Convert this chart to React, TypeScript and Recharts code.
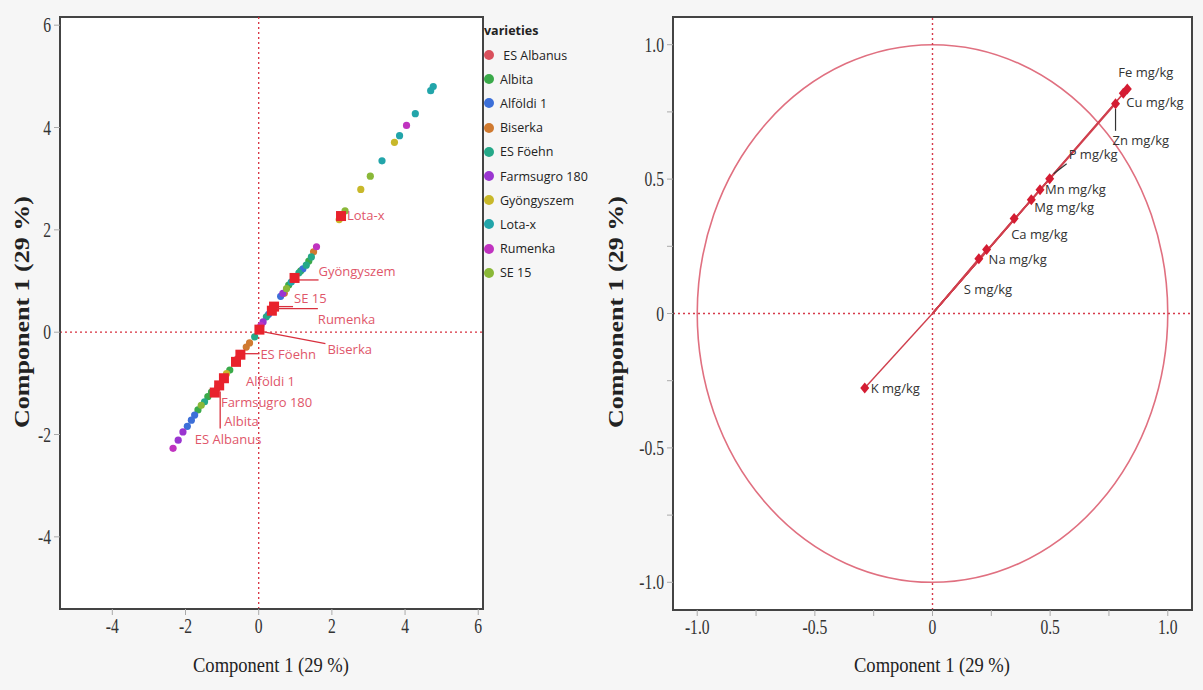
import React from "react";
import {
  ScatterChart,
  Scatter,
  XAxis,
  YAxis,
  ReferenceLine,
  ReferenceArea,
} from "recharts";

// ---- score plot (left) ----
const varietyNames = [
  "ES Albanus",
  "Albita",
  "Alföldi 1",
  "Biserka",
  "ES Föehn",
  "Farmsugro 180",
  "Gyöngyszem",
  "Lota-x",
  "Rumenka",
  "SE 15",
];

const varietyColors = [
  "#d9505c",
  "#3aaa4a",
  "#3c6fd8",
  "#d07a30",
  "#25a888",
  "#9a35d0",
  "#c8b82a",
  "#22a5aa",
  "#c033c0",
  "#8ab838",
];

const esAlbanusPts = [
  { x: -0.58, y: -0.52 },
  { x: -1.12, y: -1.08 },
];
const albitaPts = [
  { x: -0.79, y: -0.74 },
  { x: -1.29, y: -1.17 },
  { x: -1.39, y: -1.26 },
  { x: -1.66, y: -1.52 },
  { x: 1.37, y: 1.39 },
  { x: 0.82, y: 0.92 },
  { x: 1.15, y: 1.2 },
];
const alfoldiPts = [
  { x: -1.75, y: -1.62 },
  { x: -1.84, y: -1.72 },
  { x: -1.95, y: -1.84 },
  { x: 1.21, y: 1.24 },
  { x: 0.6, y: 0.7 },
  { x: 0.27, y: 0.35 },
];
const biserkaPts = [
  { x: -0.25, y: -0.21 },
  { x: -0.34, y: -0.29 },
  { x: 1.5, y: 1.57 },
  { x: 0.7, y: 0.76 },
];
const foehnPts = [
  { x: -0.11, y: -0.09 },
  { x: -1.48, y: -1.36 },
  { x: 1.44, y: 1.47 },
  { x: 1.3, y: 1.31 },
  { x: 0.21, y: 0.3 },
  { x: 1.1, y: 1.16 },
];
const farmsugroPts = [
  { x: -2.07, y: -1.95 },
  { x: -2.2, y: -2.11 },
  { x: 0.66, y: 0.76 },
  { x: 0.12, y: 0.2 },
];
const gyongyszemPts = [
  { x: 3.71, y: 3.71 },
  { x: 2.79, y: 2.79 },
  { x: 2.2, y: 2.2 },
  { x: -0.88, y: -0.81 },
];
const lotaPts = [
  { x: 4.7, y: 4.72 },
  { x: 4.77, y: 4.8 },
  { x: 4.28, y: 4.27 },
  { x: 3.85, y: 3.84 },
  { x: 3.37, y: 3.35 },
  { x: 0.89, y: 0.98 },
];
const rumenkaPts = [
  { x: 4.04, y: 4.04 },
  { x: 1.58, y: 1.67 },
  { x: 0.06, y: 0.13 },
  { x: -2.34, y: -2.27 },
];
const se15Pts = [
  { x: 3.05, y: 3.05 },
  { x: 2.36, y: 2.37 },
  { x: 0.76, y: 0.85 },
  { x: -1.57, y: -1.43 },
];

const varietyPoints = [
  esAlbanusPts,
  albitaPts,
  alfoldiPts,
  biserkaPts,
  foehnPts,
  farmsugroPts,
  gyongyszemPts,
  lotaPts,
  rumenkaPts,
  se15Pts,
];

// variety means (red squares) + label placement in px
const meanNames = [
  "Lota-x",
  "Gyöngyszem",
  "SE 15",
  "Rumenka",
  "Biserka",
  "ES Föehn",
  "Alföldi 1",
  "Farmsugro 180",
  "Albita",
  "ES Albanus",
];
const meanX = [2.25, 0.98, 0.42, 0.36, 0.02, -0.5, -0.62, -0.95, -1.08, -1.2];
const meanY = [2.27, 1.06, 0.5, 0.42, 0.05, -0.44, -0.58, -0.9, -1.04, -1.18];
const meanLabelOffset = [
  [6, -1],
  [24, -7],
  [20, -9],
  [46, 8],
  [68, 19],
  [20, -1],
  [10, 19],
  [-3, 24],
  [5, 36],
  [-20, 46],
];
const meanLeader = [
  null,
  [4, 2, 24, 2],
  [4, 0, 19, 0],
  [4, -2, 46, -2],
  [3, 2, 66, 14],
  [4, -1, 19, -1],
  null,
  null,
  [1, 6, 1, 43],
  null,
];

// ---- loading plot (right) ----
const loadingNames = [
  "Fe mg/kg",
  "Cu mg/kg",
  "Zn mg/kg",
  "P mg/kg",
  "Mn mg/kg",
  "Mg mg/kg",
  "Ca mg/kg",
  "Na mg/kg",
  "S mg/kg",
  "K mg/kg",
];
const loadingX = [0.828, 0.811, 0.778, 0.498, 0.457, 0.42, 0.347, 0.23, 0.197, -0.288];
const loadingY = [0.835, 0.819, 0.78, 0.501, 0.46, 0.423, 0.353, 0.238, 0.204, -0.277];
const loadingLabelOffset = [
  [-9, -17],
  [3, 9],
  [-3, 36],
  [19, -25],
  [5, -1],
  [3, 7],
  [-3, 15],
  [2, 9],
  [-15, 30],
  [6, 0],
];
const loadingLeader = [
  null,
  null,
  [0, 5, 0, 27],
  [4, -5, 17, -15],
  null,
  null,
  null,
  null,
  null,
  null,
];

const scoreTicks = [-4, -2, 0, 2, 4, 6];
const loadTicks = [-1, -0.75, -0.5, -0.25, 0, 0.25, 0.5, 0.75, 1];

const meanData = meanNames.map((name, i) => ({
  name,
  x: meanX[i],
  y: meanY[i],
  off: meanLabelOffset[i],
  lead: meanLeader[i],
}));
const loadingData = loadingNames.map((name, i) => ({
  name,
  x: loadingX[i],
  y: loadingY[i],
  off: loadingLabelOffset[i],
  lead: loadingLeader[i],
}));

const SERIF = "'Liberation Serif', 'Times New Roman', serif";
const SANS = "'Open Sans', 'Noto Sans', sans-serif";
const RED = "#d8303e";

const fmtLoad = (v: number) => {
  if (Math.abs(v * 2 - Math.round(v * 2)) > 1e-6) return "";
  if (v === 0) return "0";
  return v.toFixed(1);
};

const XTick = (props: any) => {
  const { x, y, payload, fmt } = props;
  const t = fmt ? fmt(payload.value) : String(payload.value);
  return (
    <g transform={`translate(${x},${y + 16})`}>
      <text
        transform="scale(0.78,1)"
        textAnchor="middle"
        fontFamily={SERIF}
        fontSize={20}
        fill="#333"
      >
        {t}
      </text>
    </g>
  );
};

const YTick = (props: any) => {
  const { x, y, payload, fmt } = props;
  const t = fmt ? fmt(payload.value) : String(payload.value);
  return (
    <g transform={`translate(${x - 1},${y + 7})`}>
      <text
        transform="scale(0.78,1)"
        textAnchor="end"
        fontFamily={SERIF}
        fontSize={20}
        fill="#333"
      >
        {t}
      </text>
    </g>
  );
};

const Dot = (color: string) => (p: any) => (
  <circle cx={p.cx} cy={p.cy} r={3.6} fill={color} />
);

const MeanShape = (p: any) => {
  const { cx, cy, payload } = p;
  const [dx, dy] = payload.off;
  const l = payload.lead;
  return (
    <g>
      {l && (
        <line
          x1={cx + l[0]}
          y1={cy + l[1]}
          x2={cx + l[2]}
          y2={cy + l[3]}
          stroke={RED}
          strokeWidth={1.3}
        />
      )}
      <rect x={cx - 5} y={cy - 5} width={10} height={10} fill="#e8222c" />
      <text
        x={cx + dx}
        y={cy + dy}
        dominantBaseline="central"
        fontFamily={SANS}
        fontSize={13}
        fill="#e0566a"
      >
        {payload.name}
      </text>
    </g>
  );
};

const LoadShape = (p: any) => {
  const { cx, cy, payload } = p;
  const [dx, dy] = payload.off;
  const l = payload.lead;
  return (
    <g>
      {l && (
        <line
          x1={cx + l[0]}
          y1={cy + l[1]}
          x2={cx + l[2]}
          y2={cy + l[3]}
          stroke="#333"
          strokeWidth={1.2}
        />
      )}
      <path
        d={`M${cx},${cy - 5.5} L${cx + 4.5},${cy} L${cx},${cy + 5.5} L${cx - 4.5},${cy} Z`}
        fill="#d41c32"
      />
      <text
        x={cx + dx}
        y={cy + dy}
        dominantBaseline="central"
        fontFamily={SANS}
        fontSize={13}
        fill="#333"
      >
        {payload.name}
      </text>
    </g>
  );
};

const Ellipse = (p: any) => {
  const { x, y, width, height } = p;
  return (
    <ellipse
      cx={x + width / 2}
      cy={y + height / 2}
      rx={Math.abs(width) / 2}
      ry={Math.abs(height) / 2}
      fill="none"
      stroke="#e07080"
      strokeWidth={1.6}
    />
  );
};

const axisLine = { stroke: "#444", strokeWidth: 2 };
const tickLine = { stroke: "#aaa" };

export default function App() {
  const sxDom: [number, number] = [-5.43, 6.13];
  const syDom: [number, number] = [-5.41, 6.16];
  const lDom: [number, number] = [-1.103, 1.103];

  return (
    <div
      style={{
        position: "fixed",
        left: 0,
        top: 0,
        width: 1203,
        height: 690,
        background: "#f6f6f6",
        overflow: "hidden",
      }}
    >
      <div style={{ position: "absolute", left: 0, top: 0 }}>
        <ScatterChart
          width={600}
          height={690}
          margin={{ top: 17, right: 117, bottom: 0, left: 0 }}
        >
          <XAxis
            type="number"
            dataKey="x"
            domain={sxDom}
            ticks={scoreTicks}
            allowDataOverflow
            height={81}
            axisLine={axisLine}
            tickLine={tickLine}
            tickSize={6}
            tick={<XTick />}
          />
          <YAxis
            type="number"
            dataKey="y"
            domain={syDom}
            ticks={scoreTicks}
            allowDataOverflow
            width={60}
            axisLine={axisLine}
            tickLine={tickLine}
            tickSize={6}
            tick={<YTick />}
          />
          <ReferenceArea
            x1={sxDom[0]}
            x2={sxDom[1]}
            y1={syDom[0]}
            y2={syDom[1]}
            fill="#ffffff"
            fillOpacity={1}
            stroke="#444"
            strokeWidth={2}
          />
          <ReferenceLine x={0} stroke={RED} strokeDasharray="2 3" strokeWidth={1.3} />
          <ReferenceLine y={0} stroke={RED} strokeDasharray="2 3" strokeWidth={1.3} />
          {varietyPoints.map((pts, i) => (
            <Scatter
              key={varietyNames[i]}
              name={varietyNames[i]}
              data={pts}
              shape={Dot(varietyColors[i])}
              isAnimationActive={false}
            />
          ))}
          <Scatter data={meanData} shape={MeanShape} isAnimationActive={false} />
        </ScatterChart>
      </div>

      <div style={{ position: "absolute", left: 600, top: 0 }}>
        <ScatterChart
          width={603}
          height={690}
          margin={{ top: 17, right: 11, bottom: 0, left: 0 }}
        >
          <XAxis
            type="number"
            dataKey="x"
            domain={lDom}
            ticks={loadTicks}
            allowDataOverflow
            height={80}
            axisLine={axisLine}
            tickLine={tickLine}
            tickSize={6}
            tick={<XTick fmt={fmtLoad} />}
          />
          <YAxis
            type="number"
            dataKey="y"
            domain={lDom}
            ticks={loadTicks}
            allowDataOverflow
            width={73}
            axisLine={axisLine}
            tickLine={tickLine}
            tickSize={6}
            tick={<YTick fmt={fmtLoad} />}
          />
          <ReferenceArea
            x1={lDom[0]}
            x2={lDom[1]}
            y1={lDom[0]}
            y2={lDom[1]}
            fill="#ffffff"
            fillOpacity={1}
            stroke="#444"
            strokeWidth={2}
          />
          <ReferenceArea x1={-1} x2={1} y1={-1} y2={1} shape={Ellipse} />
          <ReferenceLine x={0} stroke="#d63a4a" strokeDasharray="2 3" strokeWidth={1.4} />
          <ReferenceLine y={0} stroke="#d63a4a" strokeDasharray="2 3" strokeWidth={1.4} />
          {loadingData.map((d) => (
            <ReferenceLine
              key={d.name}
              segment={[
                { x: 0, y: 0 },
                { x: d.x, y: d.y },
              ]}
              stroke="#d0404e"
              strokeWidth={1.4}
            />
          ))}
          <Scatter data={loadingData} shape={LoadShape} isAnimationActive={false} />
        </ScatterChart>
      </div>

      {/* legend */}
      <div
        style={{
          position: "absolute",
          left: 484,
          top: 21,
          fontFamily: SANS,
          fontSize: 12.5,
          color: "#222",
        }}
      >
        <div style={{ fontWeight: 700, height: 22, lineHeight: "20px" }}>varieties</div>
        {varietyNames.map((n, i) => (
          <div
            key={n}
            style={{ display: "flex", alignItems: "center", height: 24.2 }}
          >
            <span
              style={{
                display: "inline-block",
                width: 10,
                height: 10,
                borderRadius: 5,
                background: varietyColors[i],
                marginRight: 6,
              }}
            />
            <span>{i === 0 ? "\u00a0" + n : n}</span>
          </div>
        ))}
      </div>

      {/* axis titles */}
      <svg
        width={1203}
        height={690}
        style={{ position: "absolute", left: 0, top: 0, pointerEvents: "none" }}
      >
        <text
          x={271}
          y={672}
          textAnchor="middle"
          fontFamily={SERIF}
          fontSize={22}
          fill="#222"
          textLength={156}
          lengthAdjust="spacingAndGlyphs"
        >
          Component 1 (29 %)
        </text>
        <text
          x={932}
          y={672}
          textAnchor="middle"
          fontFamily={SERIF}
          fontSize={22}
          fill="#222"
          textLength={156}
          lengthAdjust="spacingAndGlyphs"
        >
          Component 1 (29 %)
        </text>
        <text
          transform="translate(29,312) rotate(-90)"
          textAnchor="middle"
          fontFamily={SERIF}
          fontSize={20}
          fontWeight={700}
          fill="#222"
          textLength={232}
          lengthAdjust="spacingAndGlyphs"
        >
          Component 1  (29 %)
        </text>
        <text
          transform="translate(623,312) rotate(-90)"
          textAnchor="middle"
          fontFamily={SERIF}
          fontSize={20}
          fontWeight={700}
          fill="#222"
          textLength={232}
          lengthAdjust="spacingAndGlyphs"
        >
          Component 1  (29 %)
        </text>
      </svg>
    </div>
  );
}
